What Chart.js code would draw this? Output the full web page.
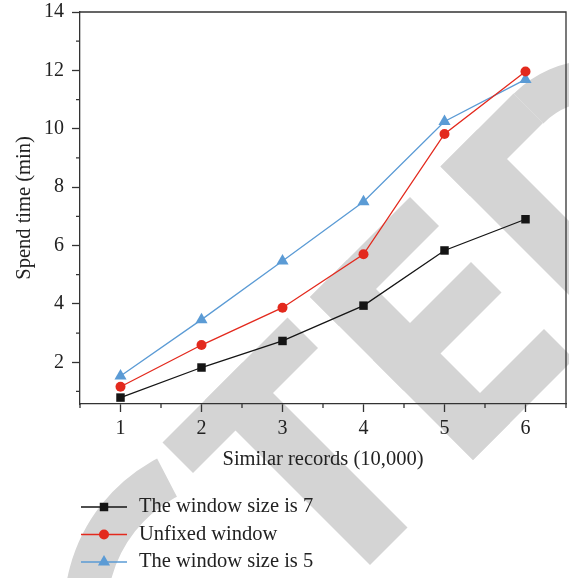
<!DOCTYPE html>
<html>
<head>
<meta charset="utf-8">
<script src="https://cdn.jsdelivr.net/npm/chart.js@4/dist/chart.umd.min.js"></script>
<style>
  html, body { margin: 0; padding: 0; background: #fff; }
  #wrap { width: 569px; height: 578px; }
</style>
</head>
<body>
<div id="wrap"><canvas id="lineChart" width="569" height="578"></canvas></div>
<script>
// Values
const categories = [1, 2, 3, 4, 5, 6];
const window7 = [0.79, 1.82, 2.73, 3.94, 5.83, 6.90];
const unfixed = [1.16, 2.59, 3.87, 5.70, 9.82, 11.96];
const window5 = [1.53, 3.46, 5.47, 7.50, 10.25, 11.69];
const seriesLabels = ['The window size is 7', 'Unfixed window', 'The window size is 5'];

const xTicks = [1, 2, 3, 4, 5, 6];
const yTicks = [2, 4, 6, 8, 10, 12, 14];
const xMinor = [0.5, 1.5, 2.5, 3.5, 4.5, 5.5, 6.5];
const yMinor = [1, 3, 5, 7, 9, 11, 13];

const FONT = '"Liberation Serif", "DejaVu Serif", serif';
const AXIS = '#333';
const TEXT = '#222';

const toPoints = vals => vals.map((v, i) => ({ x: categories[i], y: v }));

// Grey "RETRACTED" watermark behind the plot (decoration only).
// Rects are given in a 45deg-rotated frame: a = x - y, b = x + y
const wmRects = [
  [-280, -30, 605, 666],  // T bar
  [-195, -120, 605, 935], // T stem
  [13, 87, 607, 933],     // E spine
  [13, 213, 607, 665],    // E arms
  [13, 209, 733, 794],
  [13, 215, 873, 933],
  [274, 348, 607, 933],   // D spine
  [274, 420, 607, 666],
  [274, 420, 874, 933]
];
const watermark = {
  id: 'watermark',
  beforeDraw(chart) {
    const ctx = chart.ctx;
    ctx.save();
    ctx.fillStyle = '#d4d4d4';
    ctx.strokeStyle = '#d4d4d4';
    const pt = (a, b) => [(a + b) / 2, (b - a) / 2];
    wmRects.forEach(([a1, a2, b1, b2]) => {
      const c = [pt(a1, b1), pt(a2, b1), pt(a2, b2), pt(a1, b2)];
      ctx.beginPath();
      ctx.moveTo(c[0][0], c[0][1]);
      for (let i = 1; i < 4; i++) ctx.lineTo(c[i][0], c[i][1]);
      ctx.closePath();
      ctx.fill();
    });
    const deg = Math.PI / 180;
    ctx.lineCap = 'butt';
    // C bowl
    ctx.lineWidth = 43;
    ctx.beginPath();
    ctx.arc(237, 612, 151.5, 150 * deg, 242.5 * deg);
    ctx.stroke();
    // D bowl
    ctx.lineWidth = 42;
    ctx.beginPath();
    ctx.arc(595, 175, 94, 225 * deg, 405 * deg);
    ctx.stroke();
    ctx.restore();
  }
};

// top/right frame and minor ticks
const frame = {
  id: 'frame',
  beforeDatasetsDraw(chart) {
    const { ctx, chartArea: ca, scales: { x, y } } = chart;
    ctx.save();
    ctx.strokeStyle = AXIS;
    ctx.lineWidth = 1.3;
    ctx.beginPath();
    ctx.moveTo(ca.left, ca.top);
    ctx.lineTo(ca.right, ca.top);
    ctx.lineTo(ca.right, ca.bottom);
    ctx.stroke();
    ctx.beginPath();
    xMinor.forEach(v => {
      const px = x.getPixelForValue(v);
      ctx.moveTo(px, ca.bottom);
      ctx.lineTo(px, ca.bottom + 4);
    });
    yMinor.forEach(v => {
      const py = y.getPixelForValue(v);
      ctx.moveTo(ca.left, py);
      ctx.lineTo(ca.left - 4, py);
    });
    ctx.stroke();
    ctx.restore();
  }
};

// legend below the axis title: line + marker + label
const lineLegend = {
  id: 'lineLegend',
  afterDraw(chart) {
    const ctx = chart.ctx;
    ctx.save();
    chart.data.datasets.forEach((ds, i) => {
      const y = 507 + i * 27.5;
      ctx.strokeStyle = ds.borderColor;
      ctx.lineWidth = 1.3;
      ctx.beginPath();
      ctx.moveTo(81, y);
      ctx.lineTo(127, y);
      ctx.stroke();
      ctx.fillStyle = ds.pointBackgroundColor;
      Chart.helpers.drawPoint(ctx, {
        pointStyle: ds.pointStyle, radius: ds.pointRadius, rotation: 0, borderWidth: 0
      }, 104, y);
      ctx.fillStyle = TEXT;
      ctx.font = '20.5px ' + FONT;
      ctx.textBaseline = 'middle';
      ctx.textAlign = 'left';
      ctx.fillText(ds.label, 139, y);
    });
    ctx.restore();
  }
};

const makeSeries = (label, data, color, style, radius) => ({
  label,
  data: toPoints(data),
  borderColor: color,
  backgroundColor: color,
  pointBackgroundColor: color,
  pointBorderWidth: 0,
  pointStyle: style,
  pointRadius: radius,
  borderWidth: 1.3,
  tension: 0
});

new Chart(document.getElementById('lineChart'), {
  type: 'line',
  data: {
    datasets: [
      makeSeries(seriesLabels[0], window7, '#151515', 'rect', 6),
      makeSeries(seriesLabels[1], unfixed, '#e3291d', 'circle', 5),
      makeSeries(seriesLabels[2], window5, '#5b9bd5', 'triangle', 7)
    ]
  },
  options: {
    responsive: false,
    animation: false,
    devicePixelRatio: 1,
    layout: { autoPadding: false, padding: { top: 12, right: 3, bottom: 104, left: 0 } },
    scales: {
      x: {
        type: 'linear',
        min: 0.5,
        max: 6.5,
        afterBuildTicks: s => { s.ticks = xTicks.map(v => ({ value: v })); },
        afterFit: s => { s.height = 70; s.paddingLeft = 0; s.paddingRight = 0; },
        grid: { drawOnChartArea: false, tickLength: 8, tickColor: AXIS, tickWidth: 1.3 },
        border: { color: AXIS, width: 1.3 },
        ticks: { color: TEXT, font: { family: FONT, size: 20 }, padding: 5, maxRotation: 0 },
        title: {
          display: true, text: 'Similar records (10,000)', color: TEXT,
          font: { family: FONT, size: 20.5 }, padding: { top: 0, bottom: 2 }
        }
      },
      y: {
        type: 'linear',
        min: 0.57,
        max: 14,
        afterBuildTicks: s => { s.ticks = yTicks.map(v => ({ value: v })); },
        afterFit: s => { s.width = 80; s.paddingTop = 0; s.paddingBottom = 0; },
        grid: { drawOnChartArea: false, tickLength: 8, tickColor: AXIS, tickWidth: 1.3 },
        border: { color: AXIS, width: 1.3 },
        ticks: { color: TEXT, font: { family: FONT, size: 20 }, padding: 8 },
        title: {
          display: true, text: 'Spend time (min)', color: TEXT,
          font: { family: FONT, size: 20.5 }, padding: { top: 12, bottom: 0 }
        }
      }
    },
    plugins: {
      legend: { display: false },
      tooltip: { enabled: false }
    }
  },
  plugins: [watermark, frame, lineLegend]
});
</script>
</body>
</html>
